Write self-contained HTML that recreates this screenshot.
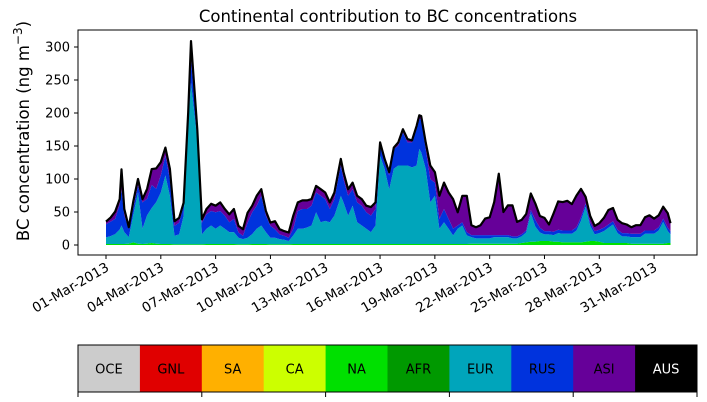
<!DOCTYPE html>
<html><head><meta charset="utf-8"><style>
html,body{margin:0;padding:0;background:#fff;}
svg{display:block;font-family:"DejaVu Sans","Liberation Sans",sans-serif;}
</style></head><body>
<svg id="chart" width="707" height="402" viewBox="0 0 707 402" xmlns="http://www.w3.org/2000/svg">
<text x="388" y="22" font-size="16.5" text-anchor="middle">Continental contribution to BC concentrations</text>
<text transform="translate(29,131) rotate(-90)" font-size="16.5" text-anchor="middle">BC concentration (ng m<tspan dy="-7" font-size="12">−3</tspan><tspan dy="7">)</tspan></text>
<g id="plot"></g>
<g id="axes"></g>
<g id="cbar"></g>
</svg>
<script>
const days = [0,0.25,0.5,0.75,0.85,1,1.25,1.5,1.75,2,2.25,2.5,2.75,3,3.25,3.5,3.75,4,4.25,4.5,4.65,5,5.25,5.5,5.75,6,6.25,6.5,6.75,7,7.25,7.5,7.75,8,8.25,8.5,8.75,9,9.25,9.5,9.75,10,10.25,10.5,10.75,11,11.25,11.5,11.75,12,12.25,12.5,12.75,12.85,13,13.25,13.5,13.75,14,14.25,14.5,14.75,15,15.25,15.5,15.75,16,16.25,16.5,16.75,17,17.15,17.25,17.5,17.75,18,18.25,18.5,18.75,19,19.25,19.5,19.75,20,20.25,20.5,20.75,21,21.25,21.5,21.75,22,22.25,22.5,22.75,23,23.25,23.5,23.75,24,24.25,24.5,24.75,25,25.25,25.5,25.75,26,26.25,26.5,26.75,27,27.25,27.5,27.75,28,28.25,28.5,28.75,29,29.25,29.5,29.75,30,30.25,30.5,30.75,30.9];
const naVals = [1.5,1.5,1.5,1.5,1.5,1.5,2,4,2,1.5,2,3,2,1.5,1.5,1.5,1,1,1,1,1,1,1,1.5,1.5,1.5,1.5,1.5,1.5,1.5,1,1,1,1.5,1.5,1.5,1.5,1,1,1,1,1,1.5,1.5,1.5,1.5,1.5,1.5,1.5,1.5,1.5,1.5,1.5,1.5,1.5,1.5,1.5,1.5,1.5,1.5,1.5,1.5,1.5,1.5,1.5,1.5,1.5,1.5,1.5,1.5,1.5,1.5,1.5,1.5,1.5,1.5,1.5,1.5,1.5,1.5,1.5,1.5,1.5,2,2,2,2,2,2,2,2,2,2,2,3,4,5,5,6,6,6,5,5,4,4,4,4,4,5,6,6,5,3,3,3,3,3,3,2,2,2,2,2,2,2,2,3,3,3,3];
const eurVals = [10,12,15,22,28,18,10,43,78,23,43,53,63,78,104,73,13,15,43,184,245,159,15,23,28,23,28,23,18,18,10,8,10,15,23,28,18,10,10,8,7,5,13,23,23,25,28,48,33,35,33,43,63,73,63,43,58,33,28,23,18,28,134,114,83,114,119,119,119,116,119,144,139,114,63,73,23,33,23,13,23,28,13,10,8,8,8,8,10,10,10,10,8,8,10,15,43,23,13,10,10,10,13,13,13,13,18,33,53,23,10,13,18,23,28,15,10,10,10,10,10,15,15,15,20,33,18,13];
const rusVals = [20,22,23,38,55,25,13,10,10,40,25,35,20,26,30,25,15,18,15,10,35,10,18,22,22,25,22,20,15,20,8,5,23,33,35,45,25,18,13,7,6,5,10,27,30,28,30,30,40,33,20,25,41,46,35,30,25,30,30,25,25,25,15,10,21,30,30,50,35,38,55,45,50,30,35,20,15,20,15,10,5,5,5,3,5,5,5,5,3,3,3,3,3,3,3,3,5,10,7,5,5,5,5,5,5,5,5,5,5,5,5,5,5,5,5,5,5,5,5,5,5,5,5,5,5,5,5,5];
const asiVals = [4,6,11,8,30,10,2,10,10,5,15,24,31,20,12,16,7,7,5,6,28,5,5,8,11,10,13,10,12,15,10,10,15,10,15,10,7,5,12,8,7,8,20,13,13,13,10,10,10,10,10,10,10,10,11,10,10,10,10,10,13,10,5,5,5,2,5,5,5,3,5,6,5,10,21,16,35,40,40,45,20,40,55,15,12,15,25,27,50,93,35,45,47,22,22,25,25,25,18,20,10,28,43,43,45,40,48,43,10,10,8,10,15,22,20,15,15,13,10,13,13,20,23,18,18,18,22,12];
const xTickDays = [0,3,6,9,12,15,18,21,24,27,30];
const xTickLabels = ["01-Mar-2013","04-Mar-2013","07-Mar-2013","10-Mar-2013","13-Mar-2013","16-Mar-2013","19-Mar-2013","22-Mar-2013","25-Mar-2013","28-Mar-2013","31-Mar-2013"];
const yTicks = [0,50,100,150,200,250,300];
const regions = ["OCE","GNL","SA","CA","NA","AFR","EUR","RUS","ASI","AUS"];
const regionColors = ["#cccccc","#e00000","#ffb000","#ccff00","#00e000","#009900","#00a5bb","#0033dd","#660099","#000000"];

const NS="http://www.w3.org/2000/svg";
const L=78,R=697,T=30,B=255;
const xS=d=>106+d*18.27;
const yS=v=>245-v*0.66;
function mk(tag,attrs,parent){const e=document.createElementNS(NS,tag);for(const k in attrs)e.setAttribute(k,attrs[k]);parent.appendChild(e);return e;}
const plot=document.getElementById('plot'), axes=document.getElementById('axes'), cbar=document.getElementById('cbar');

const layers=[["na-area",naVals,"#00e000"],["eur-area",eurVals,"#00a5bb"],["rus-area",rusVals,"#0033dd"],["asi-area",asiVals,"#660099"]];
let base=days.map(()=>0);
layers.forEach(([name,vals,col])=>{
  const top=base.map((b,i)=>b+vals[i]);
  let d="M"+days.map((dd,i)=>xS(dd).toFixed(1)+","+yS(top[i]).toFixed(1)).join("L");
  for(let i=days.length-1;i>=0;i--) d+="L"+xS(days[i]).toFixed(1)+","+yS(base[i]).toFixed(1);
  const p=mk('path',{d:d+"Z",fill:col},plot);
  
  
  base=top;
});
const tl=mk('path',{d:"M"+days.map((dd,i)=>xS(dd).toFixed(1)+","+yS(base[i]).toFixed(1)).join("L"),fill:"none",stroke:"#000","stroke-width":2.2,"stroke-linejoin":"round"},plot);



const fr=mk('rect',{x:L,y:T,width:R-L,height:B-T,fill:"none",stroke:"#000","stroke-width":1},axes);


yTicks.forEach(v=>{
  const y=yS(v);
  const t=mk('line',{x1:L-4,x2:L,y1:y,y2:y,stroke:"#000"},axes);
  
  
  const tx=mk('text',{x:L-8,y:y+4.5,"font-size":13,"text-anchor":"end"},axes);
  tx.textContent=v;
  
  
});
xTickDays.forEach((d,i)=>{
  const x=xS(d);
  const t=mk('line',{x1:x,x2:x,y1:B,y2:B+4,stroke:"#000"},axes);
  
  
  const tx=mk('text',{transform:`translate(${x+4},${B+15}) rotate(-30)`,"font-size":13.5,"text-anchor":"end"},axes);
  tx.textContent=xTickLabels[i];
  
  
});

const cT=345,cB=392,w=(R-L)/regions.length;
regions.forEach((r,i)=>{
  const rc=mk('rect',{x:L+i*w,y:cT,width:w+0.5,height:cB-cT,fill:regionColors[i]},cbar);
  
  
  const tx=mk('text',{x:L+i*w+w/2,y:(cT+cB)/2+5,"font-size":13,"text-anchor":"middle",fill:r==="AUS"?"#fff":"#000"},cbar);
  tx.textContent=r;
  
  
});
const cf=mk('rect',{x:L,y:cT,width:R-L,height:cB-cT,fill:"none",stroke:"#000"},cbar);


[0,2,4,6,8,10].forEach(k=>{
  const t=mk('line',{x1:L+k*w,x2:L+k*w,y1:cB,y2:cB+5,stroke:"#000"},cbar);
  
  
});
</script>
</body></html>
